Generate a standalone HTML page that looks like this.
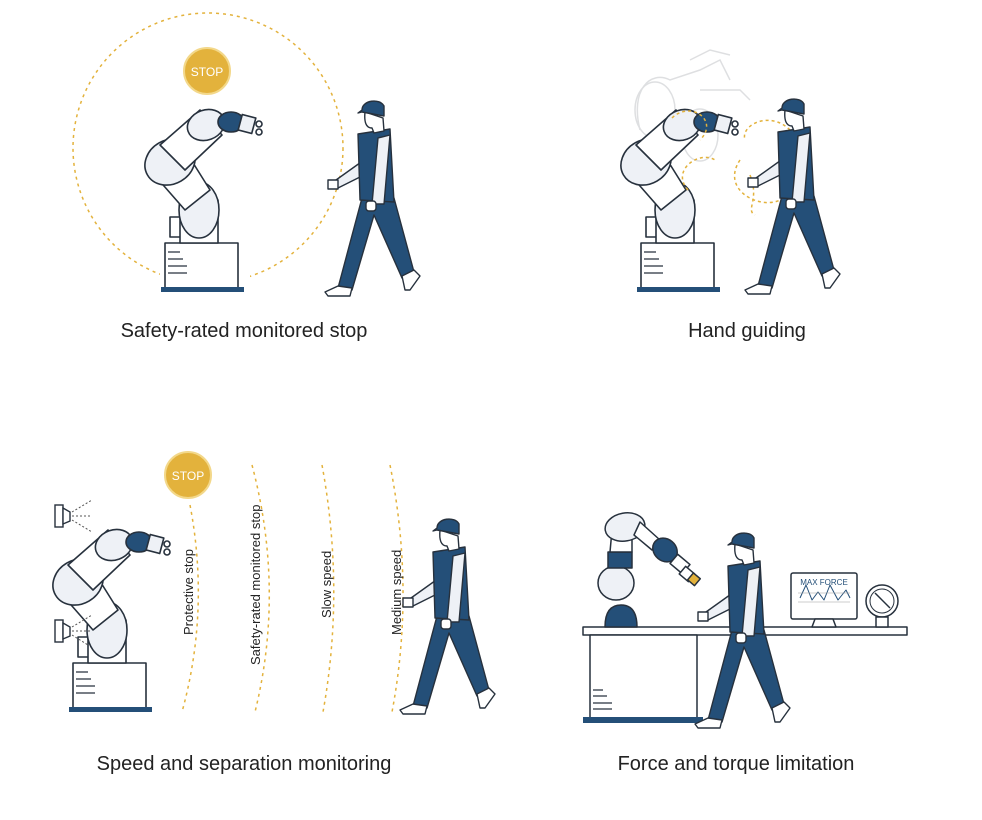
<!DOCTYPE html>
<html><head><meta charset="utf-8"><style>
html,body{margin:0;padding:0;background:#fff;}
svg{display:block}
text{font-family:"Liberation Sans",sans-serif;}
</style></head><body>
<svg width="982" height="820" viewBox="0 0 982 820" xmlns="http://www.w3.org/2000/svg">
<defs>
<g id="robot" stroke="#27313d" stroke-width="1.6" stroke-linejoin="round">
  <rect x="165" y="243" width="73" height="45" fill="#fff"/>
  <rect x="161" y="287" width="83" height="5" fill="#244f78" stroke="none"/>
  <path d="M168 252h12M168 259h15M168 266h19M168 273h19" fill="none" stroke-width="1.2"/>
  <rect x="170" y="217" width="12" height="20" fill="#fff"/>
  <path d="M180 243V200L218 200V243Z" fill="#fff"/>
  <ellipse cx="199" cy="210" rx="20" ry="28" fill="#eef1f6"/>
  <path d="M150 170L185 210L210 190L185 150Z" fill="#fff"/>
  <ellipse cx="170" cy="162" rx="26" ry="22" transform="rotate(-30 170 162)" fill="#eef1f6"/>
  <path d="M160 145L200 110L222 135L185 170Z" fill="#fff"/>
  <ellipse cx="206" cy="125" rx="19" ry="15" transform="rotate(-20 206 125)" fill="#eef1f6"/>
  <ellipse cx="231" cy="122" rx="13" ry="10" fill="#244f78"/>
  <rect x="240" y="116" width="14" height="16" fill="#eef1f6" transform="rotate(15 247 124)"/>
  <circle cx="259" cy="124" r="3" fill="#fff"/><circle cx="259" cy="132" r="3" fill="#fff"/>
</g>
<g id="walker" stroke="#27313d" stroke-width="1.4" stroke-linejoin="round">
  <path d="M362 198L338 288L352 290L374 215L402 278L414 272L394 198Z" fill="#244f78"/>
  <path d="M338 286L325 292L328 296L350 296L352 288Z" fill="#fff"/>
  <path d="M402 276L405 290L410 290L420 276L414 270Z" fill="#fff"/>
  <path d="M364 160L336 180L338 188L366 174Z" fill="#eef1f6"/>
  <rect x="328" y="180" width="10" height="9" fill="#fff"/>
  <path d="M358 134L390 129L394 202L360 200Z" fill="#244f78"/>
  <path d="M378 138L390 135L384 204L372 204Z" fill="#eef1f6"/>
  <rect x="366" y="201" width="10" height="10" rx="3" fill="#fff"/>
  <path d="M365 112C364 122 366 128 372 128L374 133L384 131L383 118Z" fill="#fff"/>
  <path d="M362 110C362 100 380 98 384 106L384 116L362 112L358 113Z" fill="#244f78"/>
</g>
</defs>

<!-- Panel 1 -->
<circle cx="208" cy="148" r="135" fill="none" stroke="#e3b23c" stroke-width="1.5" stroke-dasharray="3 4"/>
<rect x="160" y="240" width="90" height="55" fill="#fff"/>
<circle cx="207" cy="71" r="23" fill="#e3b23c" stroke="#f3d88a" stroke-width="2"/>
<text x="207" y="76" font-size="12" fill="#fff" text-anchor="middle">STOP</text>
<use href="#robot"/>
<use href="#walker"/>
<text x="244" y="337" font-size="20" fill="#222" text-anchor="middle">Safety-rated monitored stop</text>

<!-- Panel 2 -->
<g opacity="0.15">
 <path d="M640 130C630 90 650 70 670 80L700 70L720 60L730 80" fill="none" stroke="#27313d" stroke-width="1.5"/>
 <ellipse cx="655" cy="110" rx="20" ry="28" fill="none" stroke="#27313d" stroke-width="1.5"/>
 <ellipse cx="700" cy="135" rx="18" ry="26" fill="none" stroke="#27313d" stroke-width="1.5"/>
 <path d="M700 90L740 90L750 100M690 60L710 50L730 55" fill="none" stroke="#27313d" stroke-width="1.5"/>
</g>
<use href="#robot" transform="translate(476,0)"/>
<path d="M672 118C690 100 720 120 700 140M790 130C770 110 740 125 745 140M688 190C670 170 700 150 715 160M740 160C720 190 760 210 780 200M750 175C760 200 745 210 755 215" fill="none" stroke="#e3b23c" stroke-width="1.5" stroke-dasharray="3 3"/>
<use href="#walker" transform="translate(420,-2)"/>
<text x="747" y="337" font-size="20" fill="#222" text-anchor="middle">Hand guiding</text>

<!-- Panel 3 -->
<g fill="none" stroke="#e3b23c" stroke-width="1.5" stroke-dasharray="3 4">
<path d="M190 505Q210 610 182 712"/>
<path d="M252 465Q285 590 255 712"/>
<path d="M322 465Q345 590 323 712"/>
<path d="M390 465Q415 590 392 712"/>
</g>
<circle cx="188" cy="475" r="23" fill="#e3b23c" stroke="#f3d88a" stroke-width="2"/>
<text x="188" y="480" font-size="12" fill="#fff" text-anchor="middle">STOP</text>
<use href="#robot" transform="translate(-92,420)"/>
<g stroke="#27313d" stroke-width="1.4" fill="#fff">
<rect x="55" y="505" width="8" height="22"/><path d="M63 508L70 512V521L63 524Z"/>
<rect x="55" y="620" width="8" height="22"/><path d="M63 623L70 627V636L63 639Z"/>
</g>
<path d="M72 512L92 500M72 516H92M72 520L92 532M72 627L92 615M72 631H92M72 635L88 645" stroke="#555" stroke-width="1" stroke-dasharray="2 2"/>
<g font-size="13" fill="#222">
<text transform="translate(193,635) rotate(-90)">Protective stop</text>
<text transform="translate(260,665) rotate(-90)">Safety-rated monitored stop</text>
<text transform="translate(331,618) rotate(-90)">Slow speed</text>
<text transform="translate(401,635) rotate(-90)">Medium speed</text>
</g>
<use href="#walker" transform="translate(75,418)"/>
<text x="244" y="770" font-size="20" fill="#222" text-anchor="middle">Speed and separation monitoring</text>

<!-- Panel 4 -->
<g stroke="#27313d" stroke-width="1.5" stroke-linejoin="round">
<rect x="583" y="627" width="324" height="8" fill="#fff"/>
<rect x="590" y="635" width="107" height="83" fill="#fff"/>
<path d="M593 690h10M593 696h14M593 703h19M593 709h19" fill="none" stroke-width="1.2"/>
<rect x="583" y="717" width="120" height="6" fill="#244f78" stroke="none"/>
<path d="M605 627C605 610 612 605 621 605C630 605 637 610 637 627Z" fill="#244f78"/>
<ellipse cx="616" cy="583" rx="18" ry="17" fill="#eef1f6"/>
<rect x="608" y="552" width="24" height="16" fill="#244f78"/>
<path d="M610 552L612 530L632 528L632 552Z" fill="#fff"/>
<ellipse cx="625" cy="527" rx="20" ry="14" fill="#eef1f6" transform="rotate(-10 625 527)"/>
<path d="M640 522L660 540L652 550L634 535Z" fill="#fff"/>
<ellipse cx="665" cy="550" rx="13" ry="11" fill="#244f78" transform="rotate(40 665 550)"/>
<rect x="672" y="558" width="16" height="12" fill="#fff" transform="rotate(40 680 564)"/>
<rect x="681" y="569" width="12" height="10" fill="#fff" transform="rotate(40 687 574)"/>
<rect x="689" y="575" width="9" height="9" fill="#e3b23c" transform="rotate(40 694 580)"/>
<rect x="791" y="573" width="66" height="46" rx="2" fill="#fff"/>
<path d="M815 619L812 627H836L833 619Z" fill="#fff"/>
<path d="M800 598L806 585L812 600L818 592L824 600L830 585L838 600L846 590L850 598" fill="none" stroke="#244f78" stroke-width="1"/>
<path d="M798 602H850M798 593H850" stroke="#999" stroke-width="0.6"/>
<circle cx="882" cy="601" r="16" fill="#fff"/><circle cx="882" cy="601" r="12" fill="none" stroke-width="1"/>
<path d="M875 593L890 608" stroke-width="1.5"/>
<rect x="876" y="617" width="12" height="10" fill="#fff"/>
</g>
<text x="824" y="585" font-size="8" fill="#244f78" text-anchor="middle">MAX FORCE</text>
<use href="#walker" transform="translate(370,432)"/>
<text x="736" y="770" font-size="20" fill="#222" text-anchor="middle">Force and torque limitation</text>
</svg>
</body></html>
